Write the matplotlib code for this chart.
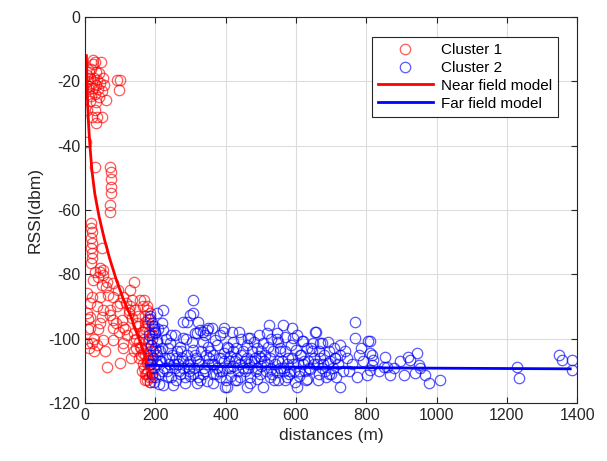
import matplotlib
matplotlib.use("Agg")
import matplotlib.pyplot as plt

# ---------------- data ----------------
c1_x = [23, 28, 45, 22, 18, 12, 30, 40, 5, 15, 25, 35, 50, 8, 20, 32, 42, 55, 3, 12, 22, 38, 48,
        8, 18, 28, 40, 60, 15, 30, 90, 100, 98, 5, 28, 33, 47, 31, 20, 3, 28,
        71, 73, 73, 75, 73, 72, 72,
        17, 18, 19, 17, 19, 17, 19, 19, 18, 47, 43, 51,
        28, 43, 52, 38, 24, 62, 47, 81, 138, 128, 5, 19, 43, 66, 81, 109, 157, 166, 14, 33,
        52, 71, 90, 128, 142, 176, 5, 14, 47, 71, 81, 104, 133, 147, 171, 14, 43, 81, 109,
        138, 161, 5, 19, 52, 81, 109, 138, 157, 57, 109, 100, 62, 166, 176, 176, 171, 185, 180,
        168, 175, 185, 170, 180, 190, 172, 182, 192, 168, 178, 188, 174, 184, 194, 170, 180,
        190, 176, 186, 168, 178, 188, 172, 182, 192, 175, 185, 165, 160, 150, 145, 155, 162,
        8, 12, 25, 35,
        60, 95, 118, 125, 135, 150, 115, 97, 88, 120, 140, 155, 170, 183, 187, 174, 179, 166,
        158, 146, 132, 124, 100, 36, 10, 26]
c1_y = [-13.4, -14, -14, -14.5, -16, -17, -17, -17.5, -18, -19, -19, -19.5, -19, -20, -20.5, -21,
        -20.5, -21, -22, -22.5, -22, -22.5, -23, -24, -24.5, -24, -25, -25.8, -26, -26.5, -19.6,
        -19.6, -22.7, -29, -29, -31, -31, -33, -31, -38.8, -46.5,
        -46.5, -48.3, -50.5, -52.7, -54.7, -58.4, -60.5,
        -64, -65.6, -67, -68.7, -70.3, -71.8, -73.4, -75, -76.5, -71.8, -78, -78.7,
        -79.2, -79.2, -80.2, -80.7, -81.8, -82.3, -83.3, -82.8, -82.3, -84.9, -85.9, -87, -87,
        -86.4, -87, -87, -88, -90, -89, -90, -91.1, -91.1, -90, -90, -91.1, -91.1, -92.1, -93.2,
        -93.2, -92.6, -94.2, -94.2, -93.7, -95.2, -94.7, -96.8, -95.2, -96.8, -96.3, -98.3,
        -97.8, -101.4, -101.4, -100.4, -100.4, -101.4, -100.4, -102.5, -104, -103, -107.7,
        -108.7, -104.6, -107.7, -110.8, -112.8, -113.4, -106.6,
        -88, -90, -92, -93, -95, -96, -97, -98, -99, -100, -101, -102, -103, -104, -104, -105,
        -106, -106.5, -107, -108, -109, -110, -110, -111, -112, -112, -113, -113.5, -98, -103,
        -96, -100, -106, -110,
        -97, -103, -100, -102,
        -84, -85, -89, -92, -88, -93, -97, -98, -95, -99, -104, -101, -96, -100, -108, -111,
        -94, -108, -105, -103, -106, -91, -89, -97, -94, -104]

c2_x = [185, 190, 195, 182, 192, 200, 188, 198, 205, 184, 194, 204, 214, 186, 196, 206, 216,
        190, 200, 210, 220, 195, 210, 223, 204, 218, 223, 199, 204, 230, 235, 228, 240, 232,
        245, 223, 242, 251, 248, 255,
        289, 280, 299, 308, 308, 322, 327, 318, 313, 337, 346, 351, 280, 270, 308, 262, 275,
        290, 300, 315, 330, 345, 265, 280, 295, 310, 325, 340, 270, 285, 300, 320, 335, 285,
        318, 346, 260, 350, 305, 335, 255,
        360, 394, 417, 375, 403, 422, 351, 365, 380, 395, 410, 430, 445, 360, 375, 390, 405,
        420, 435, 450, 365, 385, 400, 415, 440, 398, 432, 365, 403, 445, 420, 385, 430, 370,
        455, 412,
        465, 470, 522, 517, 545, 460, 475, 490, 505, 520, 535, 550, 460, 480, 495, 510, 525,
        540, 465, 485, 500, 515, 530, 545, 470, 490, 507, 470, 525, 460, 548, 500, 530, 480,
        564, 588, 569, 593, 621, 617, 555, 570, 585, 600, 615, 630, 645, 560, 575, 590, 605,
        620, 635, 650, 565, 580, 595, 610, 625, 640, 602, 598, 570, 630, 648, 555,
        655, 669, 674, 707, 726, 665, 680, 695, 710, 725, 740, 660, 675, 690, 705, 720, 735,
        665, 685, 700, 715, 726, 750, 745, 690,
        768, 768, 806, 778, 811, 854, 858, 773, 802, 811, 816, 820, 816, 811, 849, 868, 790,
        760, 835, 785,
        906, 920, 925, 944, 949, 953, 939, 968, 977, 1010, 880, 895,
        1228, 1233, 1347, 1356, 1385, 1385,
        212, 226, 238, 252, 266, 278, 292, 306, 322, 338, 352, 368, 382, 396, 412, 426, 442,
        456, 472, 488, 502, 518, 532, 548, 562, 578, 592, 608, 622, 638, 652, 668, 682, 698,
        202, 218, 236, 258, 272, 296, 312, 328, 356, 372, 388, 408, 428, 448, 466, 484, 498,
        512, 538, 556, 574, 584, 612, 628, 642, 662, 678, 694, 712, 186, 197, 208, 244, 286,
        342, 392, 438, 494, 546, 604, 656]
c2_y = [-93, -95, -97, -99, -100, -98, -102, -103, -101, -105, -106, -105, -104, -108, -109,
        -108, -107, -111, -112, -111, -110, -113.5, -114, -91, -92, -95, -97.3, -98.3, -100.4,
        -100, -103, -106, -108, -110, -112, -114.5, -101.4, -114.5, -105, -109,
        -94.7, -94.7, -92.6, -92.1, -88, -94.7, -97.3, -98.3, -98.3, -97.8, -97.3, -96.8,
        -99.9, -102.5, -103.5, -104, -106, -105, -107, -106, -104, -105, -108, -109, -110,
        -109, -108, -110, -111, -112, -111.5, -112, -111, -113.9, -113.9, -113.3, -113, -108,
        -101, -101, -99,
        -96.8, -96.8, -97.8, -102, -102.5, -104, -102.5, -105, -106, -104.5, -107, -106, -105,
        -108, -109, -110, -109, -108.5, -110, -109, -111, -112, -113, -111.5, -112, -114.9,
        -112.8, -113.9, -115, -100, -101, -99, -103, -100.5, -107, -105.5,
        -99.9, -99.9, -95.7, -98.3, -98.3, -102, -104, -103, -101.5, -102.5, -104, -101, -106,
        -107, -105.5, -107, -106, -108, -109, -110, -108.5, -110, -109.5, -110.5, -112, -112.5,
        -114.9, -113.9, -112, -115, -113, -104, -100, -101,
        -95.7, -96.8, -99.4, -99.9, -100.9, -100.9, -103, -104, -102, -103.5, -105, -103, -104,
        -107, -108, -106, -107.5, -108, -107, -106, -110, -111, -110, -111.5, -110, -109.5,
        -115, -113.4, -113, -112.5, -101.5, -109,
        -97.8, -101.4, -101.4, -103, -102, -104, -105, -104, -106, -105, -104, -108, -109,
        -107.5, -109, -108, -110, -111, -112, -111, -112, -114.9, -110, -106, -101,
        -94.7, -99.9, -100.9, -105, -104.5, -105.6, -108.7, -111.8, -111.3, -100.9, -105,
        -106.6, -108.2, -109.7, -108.7, -111.3, -107, -108, -110, -103,
        -111.3, -105.6, -106.6, -104.5, -108.2, -109.2, -110.8, -111.3, -113.9, -112.8, -109,
        -107,
        -108.9, -112.3, -105.1, -106.6, -106.6, -109.9,
        -107, -109, -106, -108, -110, -107, -108, -111, -107, -109, -106, -108, -110, -107,
        -109, -107, -108, -110, -107, -109, -106, -108, -111, -107, -109, -106, -108, -110,
        -107, -109, -108, -106, -110, -107,
        -104, -103, -112, -106, -104, -109, -105, -113, -104, -111, -106, -103, -113, -104,
        -108, -106, -111, -105, -113, -104, -112, -110, -105, -113, -103, -113, -108, -111,
        -106, -94, -96, -97, -99, -100, -99, -98, -98, -99, -100, -99, -98]

near_x = [4, 5, 6, 8, 10, 14, 20, 28, 40, 55, 70, 90, 110, 130, 150, 170, 188]
near_y = [-12, -16, -22, -28, -33, -40, -48, -55, -62, -69, -75, -82, -88, -93, -99, -105, -112]

far_x = [178, 400, 700, 1000, 1380]
far_y = [-108.3, -108.7, -109.0, -109.2, -109.4]

x_ticks = [0, 200, 400, 600, 800, 1000, 1200, 1400]
y_ticks = [0, -20, -40, -60, -80, -100, -120]

# ---------------- plot ----------------
plt.rcParams['font.family'] = ['Liberation Sans', 'DejaVu Sans']
plt.rcParams['axes.unicode_minus'] = False
fig = plt.figure(figsize=(6.07, 4.61), dpi=100)
ax = fig.add_axes([0.140, 0.126, 0.811, 0.837])

ax.plot(c1_x, c1_y, 'o', ls='none', ms=7.5, mfc='none', mec=(1, 0, 0, 0.65), mew=0.9,
        label='Cluster 1')
ax.plot(c2_x, c2_y, 'o', ls='none', ms=7.5, mfc='none', mec=(0, 0, 1, 0.65), mew=0.9,
        label='Cluster 2')
ax.plot(near_x, near_y, '-', color=(1, 0, 0), lw=2, label='Near field model')
ax.plot(far_x, far_y, '-', color=(0, 0, 1), lw=2, label='Far field model')

ax.set_xlim(0, 1400)
ax.set_ylim(-120, 0)
ax.set_xticks(x_ticks)
ax.set_yticks(y_ticks)
ax.grid(True, color='#dcdcdc', lw=0.8)
ax.set_axisbelow(True)
ax.tick_params(direction='in', top=True, right=True, labelsize=11.5, colors='#262626',
               length=4)
for s in ax.spines.values():
    s.set_color('#262626')
    s.set_linewidth(0.8)
ax.set_xlabel('distances (m)', fontsize=12.5, color='#262626')
ax.set_ylabel('RSSI(dbm)', fontsize=12.5, color='#262626')

leg = ax.legend(loc='upper right', bbox_to_anchor=(0.976, 0.968), fontsize=11,
                handlelength=3.6, fancybox=False, edgecolor='#262626', framealpha=1,
                borderpad=0.4, labelspacing=0.25, handletextpad=0.5)
leg.get_frame().set_linewidth(0.8)

fig.savefig('out.png', dpi=100)
